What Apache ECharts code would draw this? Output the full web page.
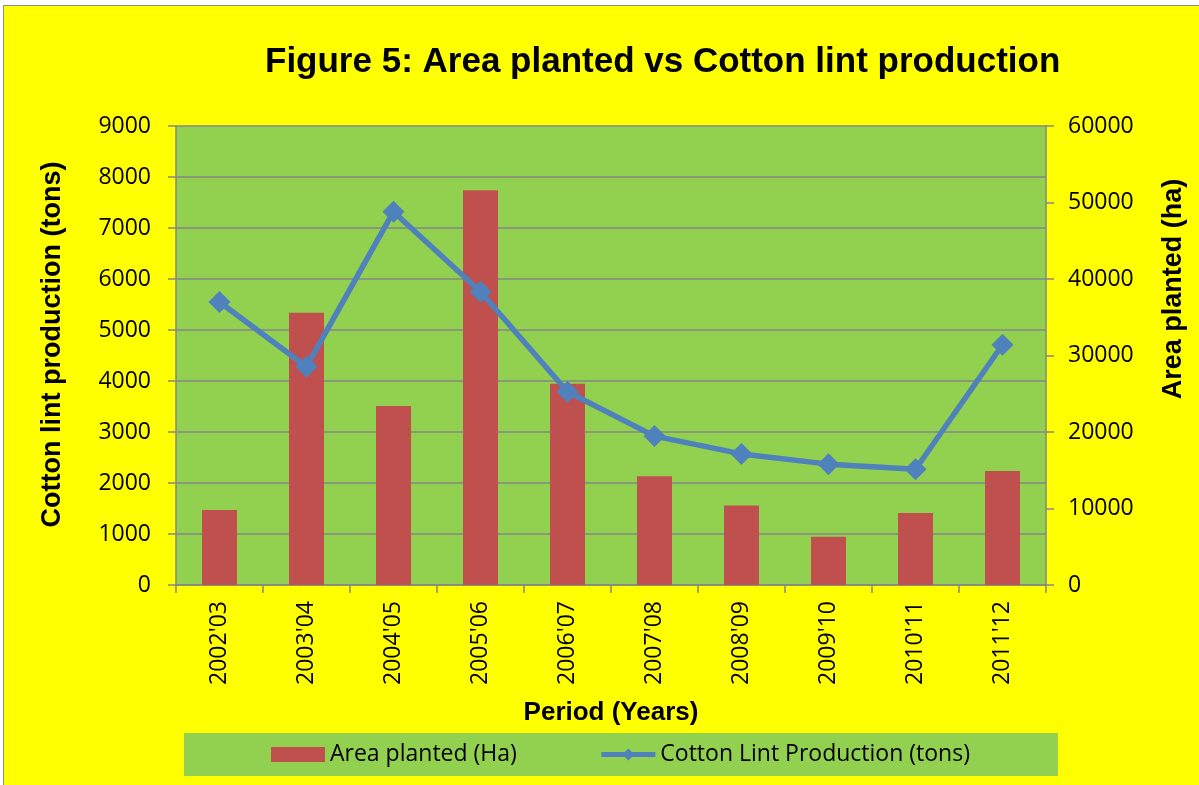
<!DOCTYPE html>
<html>
<head>
<meta charset="utf-8">
<title>Figure 5</title>
<script src="https://cdn.jsdelivr.net/npm/echarts@6/dist/echarts.min.js"></script>
<style>
  html, body { margin: 0; padding: 0; background: #fff; }
  #chart {
    position: absolute; left: 3px; top: 5px;
    width: 1195px; height: 779px;
    border-left: 1px solid #8c8c8c; border-top: 1px solid #8c8c8c;
    background: #ffff00;
  }
</style>
</head>
<body>
<div id="chart"></div>
<script>
// periods on the x axis
const periods = ["2002'03", "2003'04", "2004'05", "2005'06", "2006'07",
                 "2007'08", "2008'09", "2009'10", "2010'11", "2011'12"]
// area planted (ha) - bars, right axis
const areaPlanted = [9800, 35600, 23400, 51600, 26300, 14200, 10400, 6300, 9400, 14900]
// cotton lint production (tons) - line, left axis
const lintProduction = [5550, 4280, 7320, 5750, 3790, 2920, 2570, 2370, 2270, 4710]

const chart = echarts.init(document.getElementById('chart'), null, { renderer: 'canvas' })

const tickFont = "'Open Sans', 'Noto Sans', sans-serif"
const boldFont = "'Liberation Sans', Arial, sans-serif"
const gray = '#868686'

chart.setOption({
  animation: false,
  title: {
    text: 'Figure 5: Area planted vs Cotton lint production',
    left: 256,
    top: 34,
    textStyle: { fontFamily: boldFont, fontSize: 35, fontWeight: 'bold', color: '#000' },
  },
  grid: {
    left: 172, right: 153, top: 120, bottom: 200,
    show: true, backgroundColor: '#92d050', borderWidth: 0,
  },
  legend: {
    left: 180, top: 727,
    padding: [10, 88, 10, 87],
    backgroundColor: '#92d050',
    itemWidth: 54, itemHeight: 15, itemGap: 82,
    textStyle: { fontFamily: tickFont, fontSize: 23, color: '#000' },
    data: [
      { name: 'Area planted (Ha)', icon: 'rect' },
      { name: 'Cotton Lint Production (tons)', lineStyle: { width: 5 } },
    ],
  },
  xAxis: {
    type: 'category',
    data: periods,
    name: 'Period (Years)',
    nameLocation: 'middle',
    nameGap: 115,
    nameTextStyle: { fontFamily: boldFont, fontSize: 26, fontWeight: 'bold', color: '#000' },
    axisLine: { lineStyle: { color: gray, width: 1.5 } },
    axisTick: { show: true, length: 8, lineStyle: { color: gray, width: 1.5 } },
    axisLabel: { rotate: 90, margin: 16, fontFamily: tickFont, fontSize: 23, color: '#000' },
  },
  yAxis: [
    {
      type: 'value', min: 0, max: 9000, interval: 1000, position: 'left',
      name: 'Cotton lint production (tons)',
      nameLocation: 'middle', nameRotate: 90, nameGap: 110,
      nameTextStyle: {
        fontFamily: boldFont, fontSize: 27, fontWeight: 'bold', color: '#000',
        padding: [0, 0, 0, 22],
      },
      axisLine: { show: true, lineStyle: { color: gray, width: 1.5 } },
      axisTick: { show: true, length: 8, lineStyle: { color: gray, width: 1.5 } },
      axisLabel: { margin: 25, fontFamily: tickFont, fontSize: 23, color: '#000', formatter: v => String(v) },
      splitLine: { show: true, lineStyle: { color: gray, width: 1.5 } },
    },
    {
      type: 'value', min: 0, max: 60000, interval: 10000, position: 'right',
      name: 'Area planted (ha)',
      nameLocation: 'middle', nameRotate: 90, nameGap: 114,
      nameTextStyle: {
        fontFamily: boldFont, fontSize: 27, fontWeight: 'bold', color: '#000',
        padding: [0, 0, 0, 133],
      },
      axisLine: { show: true, lineStyle: { color: gray, width: 1.5 } },
      axisTick: { show: true, length: 8, lineStyle: { color: gray, width: 1.5 } },
      axisLabel: { margin: 22, fontFamily: tickFont, fontSize: 23, color: '#000', formatter: v => String(v) },
      splitLine: { show: false },
    },
  ],
  series: [
    {
      name: 'Area planted (Ha)',
      type: 'bar',
      yAxisIndex: 1,
      data: areaPlanted,
      barWidth: 35,
      itemStyle: { color: '#c0504d' },
    },
    {
      name: 'Cotton Lint Production (tons)',
      type: 'line',
      yAxisIndex: 0,
      data: lintProduction,
      symbol: 'diamond',
      symbolSize: 22,
      lineStyle: { color: '#4f81bd', width: 5.5 },
      itemStyle: { color: '#4f81bd' },
      z: 3,
    },
  ],
})
</script>
</body>
</html>
